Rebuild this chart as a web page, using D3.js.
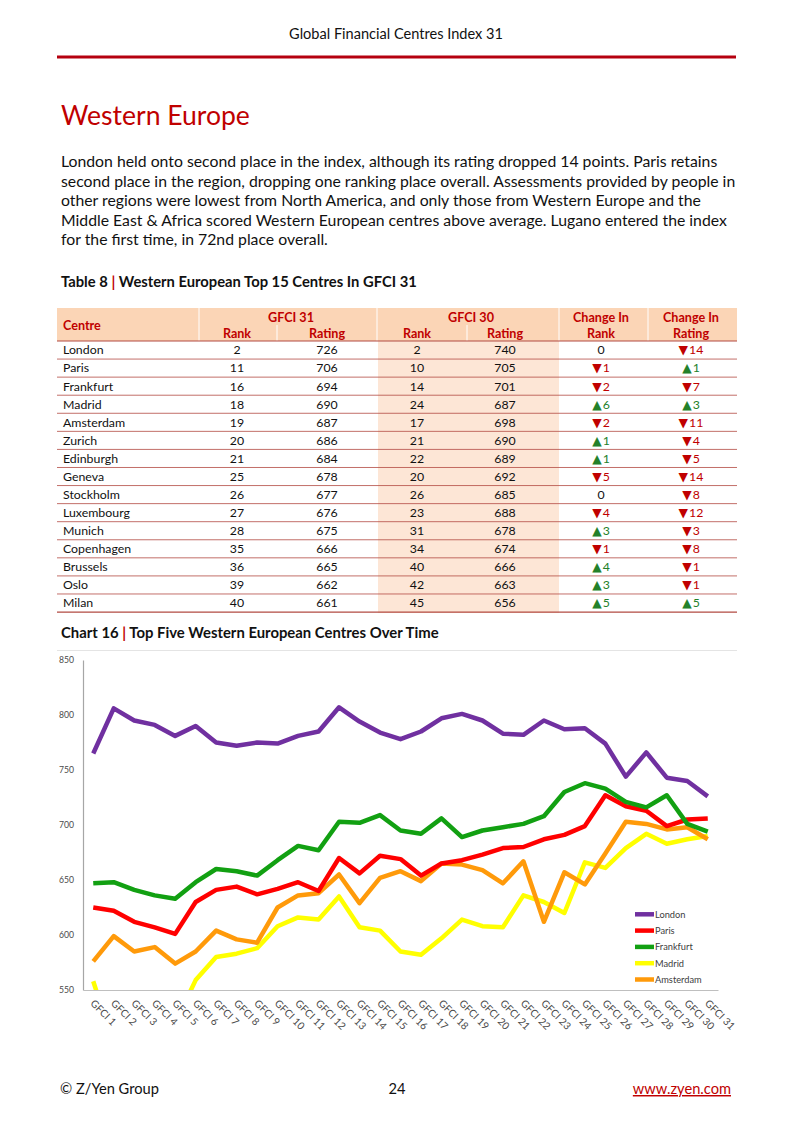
<!DOCTYPE html>
<html><head><meta charset="utf-8">
<script src="https://cdn.jsdelivr.net/npm/d3@7"></script>
<style>
body{margin:0;background:#fff}
svg{display:block}
text{font-family:Lato,'Liberation Sans',sans-serif}
</style>
</head><body>
<svg id="page" width="793" height="1122"></svg>
<script>
// ---------- DATA ----------
const categories = d3.range(1, 32).map(i => "GFCI " + i);
const london    = [765,806,795,791,781,790,775,772,775,774,781,785,807,794,784,778,785,797,801,795,783,782,795,787,788,774,744,766,743,740,726];
const paris     = [625,622,612,607,601,630,641,644,637,642,648,640,670,656,672,669,654,665,668,673,679,680,687,691,699,727,717,713,699,705,706];
const frankfurt = [647,648,641,636,633,648,660,658,654,668,681,677,703,702,709,695,692,706,689,695,698,701,708,730,738,733,721,716,727,701,694];
const madrid    = [558,500,505,510,520,559,580,583,588,608,616,614,635,607,604,585,582,597,614,608,607,636,630,620,666,661,679,692,683,687,690];
const amsterdam = [576,599,585,589,574,585,604,596,593,625,636,638,655,629,652,658,649,665,664,659,647,667,612,657,646,674,703,701,696,698,687];
const seriesNames = ["London","Paris","Frankfurt","Madrid","Amsterdam"];
const seriesColors = ["#7030a0","#ff0000","#12a012","#ffff00","#ff9a0a"];
const yTicks = [550,600,650,700,750,800,850];

const centres   = ["London","Paris","Frankfurt","Madrid","Amsterdam","Zurich","Edinburgh","Geneva","Stockholm","Luxembourg","Munich","Copenhagen","Brussels","Oslo","Milan"];
const rank31    = [2,11,16,18,19,20,21,25,26,27,28,35,36,39,40];
const rating31  = [726,706,694,690,687,686,684,678,677,676,675,666,665,662,661];
const rank30    = [2,10,14,24,17,21,22,20,26,23,31,34,40,42,45];
const rating30  = [740,705,701,687,698,690,689,692,685,688,678,674,666,663,656];

const paragraph = [
 "London held onto second place in the index, although its rating dropped 14 points. Paris retains",
 "second place in the region, dropping one ranking place overall. Assessments provided by people in",
 "other regions were lowest from North America, and only those from Western Europe and the",
 "Middle East & Africa scored Western European centres above average. Lugano entered the index",
 "for the first time, in 72nd place overall."
];

// ---------- HELPERS ----------
const svg = d3.select("#page");
const RED = "#c00000", GREEN = "#23812a";
function fitSize(str, weight, target){
  const t = svg.append("text").attr("font-size",20).attr("font-weight",weight).text(str);
  const w = t.node().getComputedTextLength(); t.remove();
  return 20*target/w;
}

// ---------- PAGE HEADER ----------
svg.append("text").attr("x",396).attr("y",39).attr("text-anchor","middle")
  .attr("font-size",fitSize("Global Financial Centres Index 31",400,214)).attr("fill","#111")
  .text("Global Financial Centres Index 31");
svg.append("line").attr("x1",57).attr("x2",736).attr("y1",57).attr("y2",57)
  .attr("stroke","#b5000f").attr("stroke-width",3);

svg.append("text").attr("x",61).attr("y",125)
  .attr("font-size",fitSize("Western Europe",400,189)).attr("fill",RED).text("Western Europe");

const pSize = fitSize(paragraph[0],400,657);
paragraph.forEach((s,i)=>{
  svg.append("text").attr("x",61).attr("y",167+i*19.6).attr("font-size",pSize).attr("fill","#111").text(s);
});

// ---------- TABLE ----------
const tt = svg.append("text").attr("x",61).attr("y",287).attr("font-weight",700)
  .attr("font-size",fitSize("Table 8 | Western European Top 15 Centres In GFCI 31",700,356)).attr("fill","#111");
tt.append("tspan").text("Table 8 ");
tt.append("tspan").attr("fill",RED).text("|");
tt.append("tspan").text(" Western European Top 15 Centres In GFCI 31");

const tX0 = 57, tX1 = 737, hTop = 308, hBot = 341, rowH = 18.07;
svg.append("rect").attr("x",tX0).attr("y",hTop).attr("width",tX1-tX0).attr("height",hBot-hTop).attr("fill","#fbd5b6");
svg.append("rect").attr("x",378).attr("y",hBot).attr("width",559-378).attr("height",rowH*15+1).attr("fill","#fde6d6");
[199,377,559,648].forEach(x=>svg.append("line").attr("x1",x).attr("x2",x).attr("y1",hTop).attr("y2",hBot).attr("stroke","#fff").attr("stroke-width",1));
[277,467].forEach(x=>svg.append("line").attr("x1",x).attr("x2",x).attr("y1",325).attr("y2",hBot).attr("stroke","#fff").attr("stroke-width",1));

const hSize = fitSize("Change In",700,56);
const hdr = svg.append("g").attr("font-weight",700).attr("font-size",hSize).attr("fill",RED).attr("text-anchor","middle");
hdr.append("text").attr("x",63).attr("y",330).attr("text-anchor","start").text("Centre");
hdr.append("text").attr("x",291).attr("y",322).text("GFCI 31");
hdr.append("text").attr("x",471).attr("y",322).text("GFCI 30");
hdr.append("text").attr("x",601).attr("y",322).text("Change In");
hdr.append("text").attr("x",691).attr("y",322).text("Change In");
const colX = [237,327,417,505,601,691];
["Rank","Rating","Rank","Rating","Rank","Rating"].forEach((s,i)=>
  hdr.append("text").attr("x",colX[i]).attr("y",338).text(s));

const bSize = fitSize("Luxembourg",400,67);
const body = svg.append("g").attr("font-size",bSize).attr("fill","#111").attr("text-anchor","middle");
centres.forEach((c,i)=>{
  const top = hBot + i*rowH, base = top + 13.4;
  body.append("text").attr("x",63).attr("y",base).attr("text-anchor","start").text(c);
  [rank31[i],rating31[i],rank30[i],rating30[i]].forEach((v,j)=>
    body.append("text").attr("x",colX[j]).attr("y",base).text(v));
  const dRank = rank30[i]-rank31[i], dRating = rating31[i]-rating30[i];
  [dRank,dRating].forEach((d,j)=>{
    const t = body.append("text").attr("x",colX[4+j]).attr("y",base);
    if(d===0){ t.text("0"); return; }
    const col = d>0?GREEN:RED;
    t.attr("fill",col);
    t.append("tspan").attr("font-family","'DejaVu Sans'").attr("font-size",bSize*1.0).text(d>0?"▲":"▼");
    t.append("tspan").attr("dx",1).text(Math.abs(d));
  });
});
for(let i=0;i<=15;i++){
  const y = hBot + i*rowH;
  svg.append("line").attr("x1",tX0).attr("x2",tX1).attr("y1",y).attr("y2",y)
    .attr("stroke","#b24a42").attr("stroke-width",i===0||i===15?1.2:0.8);
}

// ---------- CHART ----------
const ct = svg.append("text").attr("x",61).attr("y",638).attr("font-weight",700)
  .attr("font-size",fitSize("Chart 16 | Top Five Western European Centres Over Time",700,378)).attr("fill","#111");
ct.append("tspan").text("Chart 16 ");
ct.append("tspan").attr("fill",RED).text("|");
ct.append("tspan").text(" Top Five Western European Centres Over Time");
svg.append("line").attr("x1",57).attr("x2",737).attr("y1",650.5).attr("y2",650.5).attr("stroke","#e4e4e4");

const plotL = 83, plotR = 718, plotT = 660, plotB = 990;
const x = d3.scalePoint().domain(categories).range([plotL,plotR]).padding(0.5);
const y = d3.scaleLinear().domain([550,850]).range([plotB,plotT]);

svg.append("defs").append("clipPath").attr("id","plotClip")
  .append("rect").attr("x",plotL).attr("y",plotT-20).attr("width",plotR-plotL+10).attr("height",plotB-plotT+20);

const tickSize = fitSize("850",400,15);
const yAxis = svg.append("g").attr("transform",`translate(${plotL},0)`)
  .call(d3.axisLeft(y).tickValues(yTicks).tickSize(0).tickPadding(9));
yAxis.select(".domain").attr("stroke","#a6a6a6").attr("stroke-width",1.2);
yAxis.selectAll("text").attr("font-size",tickSize).attr("fill","#4a4a4a").attr("font-family","Lato");

const xAxis = svg.append("g").attr("transform",`translate(0,${plotB})`)
  .call(d3.axisBottom(x).tickSize(0).tickPadding(0));
xAxis.select(".domain").attr("stroke","#bfbfbf").attr("stroke-width",1.2);
xAxis.selectAll("text").attr("font-size",10.2).attr("fill","#4a4a4a").attr("font-family","Lato")
  .attr("text-anchor","start").attr("dy",0)
  .attr("transform","translate(-4,14) rotate(45)").attr("x",0).attr("y",0);

const seriesData = [london,paris,frankfurt,madrid,amsterdam];
const line = d3.line().x((d,i)=>x(categories[i])).y(d=>y(d));
const lines = svg.append("g").attr("clip-path","url(#plotClip)");
[3,4,1,2,0].forEach(k=>{
  lines.append("path").datum(seriesData[k]).attr("d",line).attr("fill","none")
    .attr("stroke",seriesColors[k]).attr("stroke-width",4.5).attr("stroke-linejoin","round").attr("stroke-linecap","butt");
});

const legSize = fitSize("London",400,30.5);
const leg = svg.append("g");
seriesNames.forEach((n,i)=>{
  const ly = 914.3 + i*16.3;
  leg.append("line").attr("x1",635).attr("x2",654).attr("y1",ly).attr("y2",ly)
    .attr("stroke",seriesColors[i]).attr("stroke-width",4.5);
  leg.append("text").attr("x",655).attr("y",ly+3.3).attr("font-size",legSize).attr("fill","#404040").text(n);
});

// ---------- FOOTER ----------
const fSize = fitSize("© Z/Yen Group",400,99);
svg.append("text").attr("x",60).attr("y",1094).attr("font-size",fSize).attr("fill","#111").text("© Z/Yen Group");
svg.append("text").attr("x",397).attr("y",1094).attr("font-size",fSize).attr("text-anchor","middle").attr("fill","#111").text("24");
svg.append("text").attr("x",731).attr("y",1094).attr("font-size",fSize).attr("text-anchor","end")
  .attr("fill",RED).attr("text-decoration","underline").text("www.zyen.com");
</script>
</body></html>
